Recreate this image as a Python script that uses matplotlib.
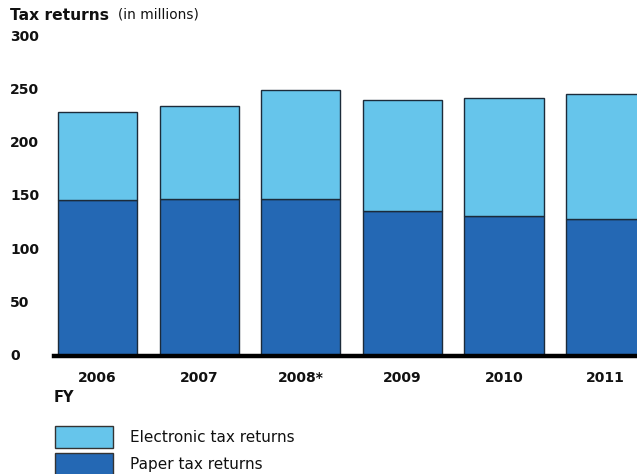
import matplotlib
matplotlib.use("Agg")
import matplotlib.pyplot as plt
from matplotlib.patches import Rectangle
import matplotlib.transforms as mtransforms

plt.rcParams['font.family'] = ['DejaVu Sans']

years = ["2006", "2007", "2008*", "2009", "2010", "2011"]
paper = [147, 148, 148, 136, 132, 129]
electronic = [82, 87, 102, 105, 111, 117]
yticks = [0, 50, 100, 150, 200, 250, 300]

light = "#66C5EB"
dark = "#2468B4"
edge = "#1c2b3a"

W, H = 637, 474
fig = plt.figure(figsize=(W / 100, H / 100), dpi=100)
ax = fig.add_axes([54 / W, (H - 356) / H, 1 - 54 / W, (356 - 37) / H])

x = list(range(len(years)))
ax.bar(x, paper, width=0.78, color=dark, edgecolor=edge, linewidth=1.0, zorder=2)
ax.bar(x, electronic, bottom=paper, width=0.78, color=light, edgecolor=edge,
       linewidth=1.0, zorder=2)

ax.set_xlim(-0.43, 5.31)
ax.set_ylim(0, 300)
for s in ["top", "right", "left"]:
    ax.spines[s].set_visible(False)
ax.spines["bottom"].set_linewidth(3.2)
ax.spines["bottom"].set_zorder(3)
ax.set_yticks([])
ax.set_xticks(x)
ax.set_xticklabels(years, fontsize=10, fontweight="bold", color="#111111")
ax.tick_params(axis="x", length=0, pad=11)

trans = mtransforms.blended_transform_factory(fig.transFigure, ax.transData)
for v in yticks:
    ax.text(10 / W, v, str(v), transform=trans, ha="left", va="center",
            fontsize=10, fontweight="bold", color="#111111", clip_on=False)

fig.text(10 / W, 1 - 15 / H, "Tax returns", fontsize=11.2, fontweight="bold",
         ha="left", va="center", color="#111111")
fig.text(118 / W, 1 - 15 / H, "(in millions)", fontsize=9.8, ha="left", va="center",
         color="#111111")

fig.text(54 / W, 1 - 398 / H, "FY", fontsize=10.5, fontweight="bold",
         ha="left", va="center", color="#111111")

legend_items = [("Electronic tax returns", light, 426), ("Paper tax returns", dark, 453)]
for label, col, ytop in legend_items:
    r = Rectangle((55 / W, 1 - (ytop + 22) / H), 58 / W, 22 / H,
                  transform=fig.transFigure, facecolor=col, edgecolor="#333333",
                  linewidth=1.0)
    fig.add_artist(r)
    fig.text(130 / W, 1 - (ytop + 11) / H, label, fontsize=11, ha="left",
             va="center", color="#111111")

fig.savefig("out.png", dpi=100)
